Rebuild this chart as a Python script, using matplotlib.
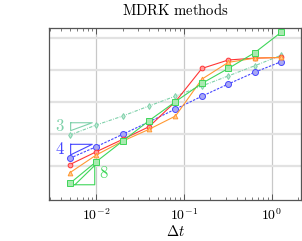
import numpy as np
import matplotlib
matplotlib.use('Agg')
import matplotlib.pyplot as plt

plt.rcParams['mathtext.fontset'] = 'cm'
plt.rcParams['font.family'] = 'serif'

# step sizes
dt = [0.005, 0.01, 0.02, 0.04, 0.08, 0.16, 0.32, 0.64, 1.28]

# errors
err_teal = [8.1e-11, 7.1e-10, 4.9e-9, 4.3e-8, 3.6e-7, 3.2e-6, 2.8e-5, 2.5e-4, 2.4e-3]
err_blue = [5.4e-13, 6.6e-12, 9.5e-11, 1.4e-9, 2.2e-8, 3.5e-7, 4.9e-6, 6.2e-5, 6.0e-4]
err_red = [1.4e-13, 2.2e-12, 3.2e-11, 4.9e-10, 1.1e-7, 1.4e-4, 8.7e-4, 1.3e-3, 1.5e-3]
err_orange = [2.4e-14, 1.1e-12, 2.2e-11, 2.8e-10, 4.9e-9, 1.4e-5, 5.2e-4, 1.3e-3, 1.5e-3]
err_green = [2.4e-15, 2.6e-13, 2.2e-11, 1.8e-9, 1.1e-7, 5.6e-6, 1.4e-4, 4.2e-3, 3.4e-1]

orders = [3, 4, 8]

c_teal = '#7fd1aa'
c_blue = '#4646ff'
c_red = '#ff3535'
c_orange = '#ff9933'
c_green = '#3fd65a'

fig = plt.figure(figsize=(3.02, 2.41), dpi=100)
ax = fig.add_axes([0.162, 0.170, 0.835, 0.714])
ax.set_xscale('log')
ax.set_yscale('log')

ax.plot(dt, err_teal, marker='d', ms=3.0, lw=0.8, color=c_teal, dashes=(3, 1.2, 0.8, 1.2),
        mfc='#bfe8d4', mec=c_teal, mew=0.7, zorder=3)
ax.plot(dt, err_blue, marker='o', ms=4.3, lw=0.8, color=c_blue, dashes=(2.2, 1.2),
        mfc='#a8a8f4', mec=c_blue, mew=0.7, zorder=4)
ax.plot(dt, err_red, '-', marker='o', ms=3.4, lw=0.8, color=c_red,
        mfc='#ff9c9c', mec=c_red, mew=0.7, zorder=5)
ax.plot(dt, err_orange, '-', marker='^', ms=3.4, lw=0.8, color=c_orange,
        mfc='#ffc98f', mec=c_orange, mew=0.7, zorder=5)
ax.plot(dt, err_green, '-', marker='s', ms=4.0, lw=0.8, color=c_green,
        mfc='#a8eab0', mec=c_green, mew=0.7, zorder=6)

# slope triangles
x0, x1 = 0.0051, 0.009
w = np.log10(x1 / x0)
y3 = 10 ** -8.94
ax.plot([x0, x1, x0, x0], [y3, y3, y3 / 10 ** (orders[0] * w), y3], color=c_teal, lw=0.8)
ax.text(0.0044, 10 ** -9.3, '$3$', color=c_teal, fontsize=12, ha='right', va='center')
y4 = 10 ** -10.96
ax.plot([x0, x1, x0, x0], [y4, y4, y4 / 10 ** (orders[1] * w), y4], color=c_blue, lw=0.8)
ax.text(0.0044, 10 ** -11.4, '$4$', color=c_blue, fontsize=12, ha='right', va='center')
x0g, x1g = 0.0057, 0.0096
wg = np.log10(x1g / x0g)
y8 = 10 ** -14.75
ax.plot([x0g, x1g, x1g, x0g], [y8, y8, y8 * 10 ** (orders[2] * wg), y8], color=c_green, lw=0.8)
ax.text(0.0106, 10 ** -13.7, '$8$', color=c_green, fontsize=12, ha='left', va='center')

ax.set_xlim(10 ** -2.54, 10 ** 0.335)
ax.set_ylim(10 ** -16.18, 10 ** -0.06)

ax.set_xticks([1e-2, 1e-1, 1e0], [r'$10^{-2}$', r'$10^{-1}$', r'$10^{0}$'], fontsize=10)
ax.xaxis.set_minor_locator(matplotlib.ticker.LogLocator(base=10, subs=np.arange(2, 10)))
ax.xaxis.set_minor_formatter(matplotlib.ticker.NullFormatter())
ax.tick_params(axis='x', which='both', direction='in', top=True, color='#444444', pad=5)
ax.tick_params(axis='x', which='major', length=4, width=0.6)
ax.tick_params(axis='x', which='minor', length=2.5, width=0.5)

ax.set_yticks([1e-13, 1e-10, 1e-7, 1e-4, 1e-1])
ax.yaxis.set_minor_locator(matplotlib.ticker.NullLocator())
ax.tick_params(axis='y', which='both', length=0, labelleft=False)

ax.grid(True, axis='y', color='#e2e2e2', lw=1.6, zorder=0)
ax.grid(True, axis='x', which='major', color='#c8c8c8', lw=0.9, zorder=0)
ax.set_axisbelow(True)
for s in ax.spines.values():
    s.set_color('#555555')
    s.set_linewidth(0.9)

ax.set_xlabel(r'$\Delta t$', fontsize=10.5, labelpad=1)
ax.set_title(r'$\mathrm{MDRK\ methods}$', fontsize=10.6, pad=9)

plt.savefig('out.png', dpi=100)
